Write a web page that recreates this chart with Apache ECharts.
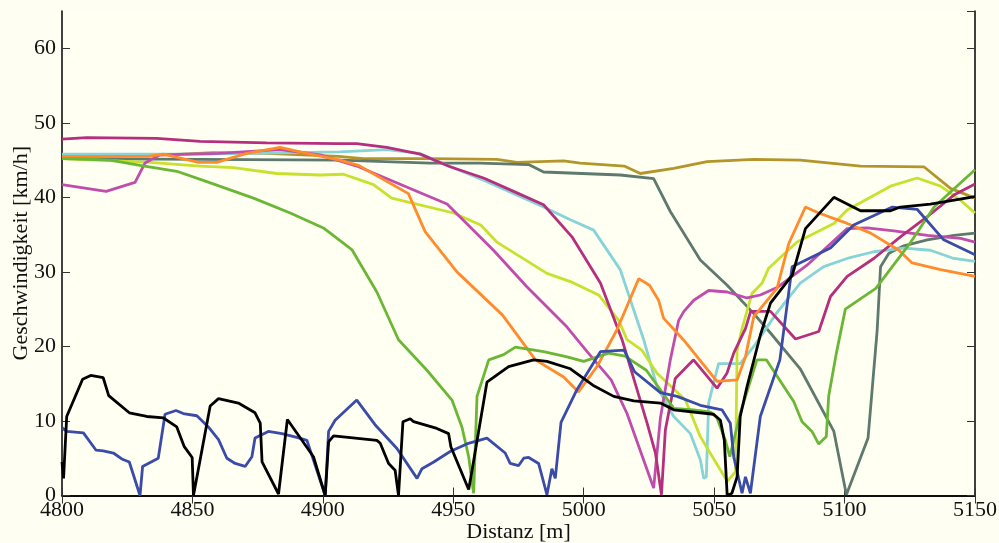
<!DOCTYPE html>
<html>
<head>
    <meta charset="utf-8">
    <script src="https://cdn.jsdelivr.net/npm/echarts@6/dist/echarts.min.js"></script>
    <style>
        html, body { margin: 0; padding: 0; background: #fefef2; }
        #main { width: 999px; height: 543px; }
    </style>
</head>
<body>
    <div id="main"></div>
    <script>
        // Distanz [m] / Geschwindigkeit [km/h] pairs
        var black = [[4800,4.5],[4800.6,2.3],[4801.8,10.6],[4807.9,15.6],[4811,16.1],[4815.8,15.8],[4817.9,13.4],[4825.8,11.1],[4832.5,10.6],[4838.9,10.4],[4844,9.2],[4846.8,6.6],[4849.9,5.1],[4850.4,0],[4856.8,12.0],[4860,13.0],[4867.6,12.4],[4874,11.1],[4876,9.7],[4876.7,4.5],[4883,0.2],[4886.4,10.2],[4896.4,5.2],[4900.9,0],[4902.2,7.2],[4904.1,8.0],[4920.7,7.4],[4922,7.0],[4925.2,4.3],[4927.7,3.4],[4929,0],[4930.7,9.9],[4933.5,10.3],[4934.8,9.9],[4943.7,9.0],[4948.2,8.3],[4949.1,6.5],[4955.9,0.8],[4957.2,3.4],[4962.9,15.2],[4971.2,17.3],[4980.8,18.2],[4985.9,18.0],[4994.9,17.0],[5003.5,14.8],[5011.5,13.3],[5019.2,12.7],[5029.4,12.4],[5034.5,11.5],[5049.8,10.9],[5052.4,10.1],[5053.9,7.4],[5055,0],[5056.8,0.3],[5058.8,2.5],[5060,10.6],[5062.6,14.6],[5067.7,21.5],[5071.6,25.8],[5080,29.6],[5085,35.8],[5095.9,40.0],[5106.1,38.2],[5117.6,38.2],[5121.4,38.7],[5132.9,39.1],[5150,40.1]];
        var blue = [[4800,9.1],[4801.8,8.6],[4808.2,8.4],[4813,6.1],[4815.8,6.0],[4819.7,5.7],[4822.9,4.9],[4825.8,4.5],[4829.9,0],[4830.9,3.9],[4836.9,5.0],[4839.5,10.9],[4843.7,11.4],[4846.5,11.0],[4851.7,10.7],[4856.1,9.2],[4860,7.5],[4863.2,5.0],[4866.4,4.3],[4870.2,3.9],[4872.8,5.2],[4874,7.7],[4879.1,8.6],[4884.3,8.3],[4890,7.8],[4893.9,7.4],[4900.9,0],[4902.2,8.6],[4904.7,10.1],[4913,12.8],[4920,9.5],[4928.4,6.3],[4936.1,2.3],[4938,3.6],[4942.5,4.5],[4948.8,5.9],[4955.8,7.0],[4962.9,7.7],[4969.9,5.7],[4971.8,4.3],[4975,4.0],[4977,5.0],[4978.9,5.1],[4982.7,4.3],[4985.9,0.1],[4987.8,3.6],[4989.1,2.3],[4991.3,9.8],[4997.4,14.2],[5006.4,19.3],[5015.5,19.5],[5019.5,16.6],[5029.4,13.8],[5035.8,13.3],[5044.7,12.1],[5053,11.5],[5056.2,9.7],[5057.5,5.2],[5060.7,0.3],[5062,2.5],[5063.9,0.3],[5067.7,10.6],[5075.2,18.2],[5079.9,30.7],[5094.6,33.2],[5103.5,36.3],[5118.3,38.7],[5127.8,38.4],[5138,34.3],[5150,32.3]];
        var magentaDark = [[4800,47.8],[4809.5,48.0],[4836.3,47.9],[4852.9,47.5],[4878.5,47.3],[4906,47.2],[4913,47.2],[4924.5,46.7],[4937.3,45.8],[4948.8,44.1],[4961.6,42.6],[4974.4,40.6],[4984.6,39.0],[4995.5,34.7],[5006.4,28.5],[5014.7,20.9],[5024.3,9.7],[5027.5,5.7],[5029.8,0.1],[5031.3,8.8],[5035.1,15.7],[5042.1,18.2],[5051.1,14.4],[5054.9,16.4],[5057.5,19.1],[5062,22.4],[5064,24.7],[5071.6,24.7],[5081.2,21.0],[5090.1,22.0],[5094.6,26.7],[5101,29.4],[5111.2,31.8],[5121.4,34.7],[5131.7,37.4],[5141.9,40.3],[5150,41.8]];
        var magentaLight = [[4800,41.7],[4816.9,40.8],[4828,42.0],[4831.8,44.6],[4837.6,45.7],[4860,45.9],[4883.6,46.4],[4899,45.7],[4913,44.2],[4947.6,39.1],[4965.4,32.9],[4978.2,28.0],[4993.6,22.6],[5001.3,19.3],[5010.5,15.5],[5016.6,11.0],[5026.8,1.0],[5029.4,10.4],[5033.2,18.2],[5036.4,23.5],[5038.4,24.7],[5042.2,26.2],[5047.9,27.5],[5055,27.3],[5062.6,26.5],[5067.7,26.9],[5074.1,27.9],[5085.6,30.9],[5101,35.8],[5108.6,35.9],[5118.9,35.5],[5131.7,34.9],[5144.5,34.5],[5150,34.0]];
        var cyan = [[4800,45.8],[4852.9,45.8],[4906.6,46.1],[4924.5,46.4],[4937,45.9],[4947.6,44.3],[4961.6,42.3],[4984.6,38.7],[4994.9,37.0],[5003.8,35.6],[5014,30.3],[5023,20.9],[5028.1,14.6],[5034.5,10.6],[5040.9,8.3],[5044.7,4.8],[5046,2.3],[5047,2.5],[5047.9,12.4],[5049.8,15.1],[5051.7,17.7],[5060,17.7],[5065.2,20.0],[5074,24.5],[5083,28.5],[5092,30.7],[5101,31.8],[5111.2,32.7],[5122.7,33.2],[5132.9,32.9],[5141.9,31.8],[5150,31.4]];
        var lime = [[4800,45.2],[4833.8,44.7],[4852.9,44.2],[4865.7,44.0],[4882.3,43.2],[4899,43.0],[4907.9,43.1],[4919.4,41.7],[4926.4,39.9],[4950.1,37.9],[4960.5,36.3],[4966.7,34.0],[4985.9,29.8],[4994.9,28.7],[5005.7,26.9],[5013.4,23.5],[5016.6,20.9],[5022.3,19.5],[5028.1,16.4],[5039,12.8],[5044.7,7.9],[5055,1.9],[5058.2,3.2],[5058.8,19.5],[5060.7,22.4],[5064.5,27.1],[5068.4,28.5],[5070.9,30.5],[5081.8,34.0],[5095.9,36.5],[5101,38.3],[5117.6,41.5],[5127.8,42.6],[5136.8,41.5],[5144.5,39.6],[5150,37.9]];
        var green = [[4800,45.2],[4818.4,45.0],[4829.9,44.3],[4844,43.5],[4855.5,42.1],[4873.4,39.9],[4887.5,37.9],[4900.2,35.9],[4911.1,33.0],[4920.7,27.3],[4929,20.9],[4939.9,16.8],[4949.5,12.8],[4953.3,9.2],[4955.9,5.2],[4957.8,0.3],[4959.1,13.3],[4963.6,18.2],[4969.3,18.9],[4973.8,19.9],[4984.6,19.3],[4993.6,18.6],[5000,18.0],[5009.5,19.1],[5015.8,18.7],[5024,16.8],[5034.5,11.7],[5042.2,11.5],[5048.6,11.2],[5051.1,10.4],[5054.3,7.4],[5056,5.2],[5060,11.0],[5066.4,18.2],[5070,18.2],[5080.5,12.6],[5083.7,9.9],[5087.5,8.6],[5090.1,6.9],[5093,7.9],[5093.9,13.3],[5096.8,19.0],[5100.3,25.0],[5112,27.8],[5125.4,34.0],[5134.3,38.7],[5150,43.7]];
        var orange = [[4800,45.5],[4833,45.5],[4838.9,45.8],[4852.3,44.7],[4859.3,44.7],[4870.8,45.9],[4883.6,46.7],[4893.9,45.9],[4906.6,45.0],[4913.6,44.3],[4932.8,40.5],[4939.2,35.4],[4951.4,30.0],[4968.9,24.2],[4981.5,18.2],[4992.3,15.9],[4998,13.9],[5005.1,17.3],[5012.7,22.2],[5021.1,29.1],[5025.2,28.2],[5028.7,26.2],[5030.6,23.8],[5038.2,20.9],[5051.1,15.3],[5058.8,15.5],[5062,18.6],[5065.2,24.0],[5074.1,27.8],[5078.6,33.8],[5085,38.7],[5090.1,37.9],[5101,36.5],[5110,35.2],[5120.8,32.9],[5125.9,31.2],[5136.8,30.3],[5150,29.4]];
        var olive = [[4800,45.4],[4840,45.7],[4858,46.0],[4878.5,45.9],[4906,45.5],[4915.6,45.2],[4941.2,45.2],[4966.7,45.1],[4974.4,44.7],[4992.3,44.9],[4998.7,44.6],[5015.5,44.2],[5021.7,43.2],[5034.5,43.9],[5047.3,44.8],[5065.2,45.1],[5083,45.0],[5106.1,44.2],[5130.4,44.1],[5140.6,41.2],[5150,39.9]];
        var gray = [[4800,45.2],[4852.9,45.1],[4906.6,45.0],[4941.2,44.6],[4960.3,44.6],[4978.9,44.4],[4984.6,43.4],[5014,43.0],[5026.8,42.5],[5033.2,38.1],[5044.7,31.6],[5055,28.2],[5065.2,24.4],[5071.6,21.8],[5083,17.0],[5095.9,8.6],[5100.7,0.1],[5109,7.7],[5112.5,22.2],[5113.8,30.7],[5117,32.5],[5122.7,33.5],[5131.7,34.3],[5141.9,34.9],[5150,35.2]];

        // drawing order: first = bottom
        var lines = [
            { data: olive, color: '#b3962b' },
            { data: gray, color: '#5e7a6e' },
            { data: cyan, color: '#86d3d8' },
            { data: lime, color: '#c8e02e' },
            { data: magentaLight, color: '#c04dad' },
            { data: magentaDark, color: '#b52f7e' },
            { data: orange, color: '#ff8b2c' },
            { data: green, color: '#6cb636' },
            { data: blue, color: '#3a4ba9' },
            { data: black, color: '#000000' }
        ];

        var font = 'Liberation Serif';
        var chart = echarts.init(document.getElementById('main'));

        var frameAxis = {
            axisLine: { show: true, lineStyle: { color: '#000', width: 1.5 } },
            axisTick: { show: true, inside: true, length: 8, lineStyle: { color: '#333', width: 1 } },
            splitLine: { show: false }
        };
        var plain = function (v) { return String(v); };

        chart.setOption({
            backgroundColor: '#fefef2',
            animation: false,
            grid: {
                left: 62, right: 24, top: 11, bottom: 47.5,
                containLabel: false, outerBoundsMode: 'none',
                show: true, backgroundColor: '#fffff2', borderWidth: 0
            },
            xAxis: [
                Object.assign({
                    type: 'value', min: 4800, max: 5150, interval: 50, position: 'bottom',
                    name: 'Distanz [m]', nameLocation: 'middle', nameGap: 26, nameMoveOverlap: false,
                    nameTextStyle: { fontFamily: font, fontSize: 22, color: '#111' },
                    axisLabel: { fontFamily: font, fontSize: 22, color: '#111', margin: 4, formatter: plain }
                }, frameAxis),
                Object.assign({
                    type: 'value', min: 4800, max: 5150, interval: 50, position: 'top',
                    axisLabel: { show: false }
                }, frameAxis)
            ],
            yAxis: [
                Object.assign({
                    type: 'value', min: 0, max: 65, interval: 10, position: 'left',
                    name: 'Geschwindigkeit [km/h]', nameLocation: 'middle', nameGap: 30, nameMoveOverlap: false,
                    nameTextStyle: { fontFamily: font, fontSize: 22, color: '#111' },
                    axisLabel: { fontFamily: font, fontSize: 22, color: '#111', margin: 6, showMaxLabel: false, formatter: plain }
                }, frameAxis),
                Object.assign({
                    type: 'value', min: 0, max: 65, interval: 10, position: 'right',
                    axisLabel: { show: false }
                }, frameAxis)
            ],
            series: lines.map(function (l) {
                return {
                    type: 'line',
                    data: l.data,
                    showSymbol: false,
                    symbol: 'none',
                    lineStyle: { color: l.color, width: 2.8 },
                    itemStyle: { color: l.color }
                };
            })
        });

        window.onresize = function () {
            chart.resize();
        };
    </script>
</body>
</html>
